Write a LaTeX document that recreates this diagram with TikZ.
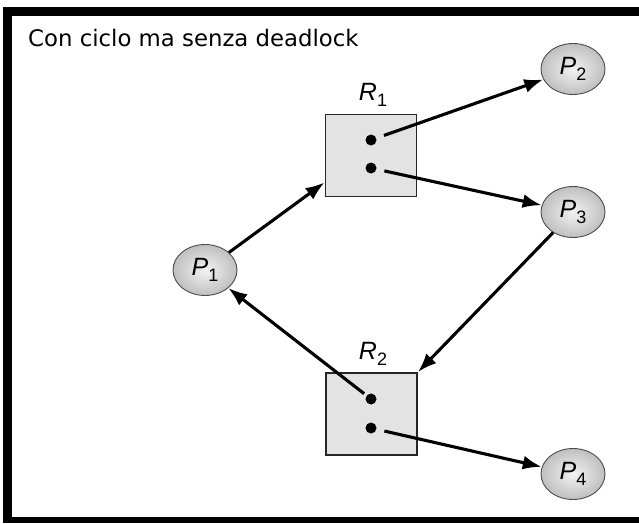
\documentclass[tikz,border=0pt]{standalone}
\usepackage{fontspec}
\setmainfont{DejaVu Sans}
\newfontfamily\lblfont{Liberation Sans}
\usetikzlibrary{arrows.meta,shapes.geometric}
\newcommand\mylab[2]{{\itshape #1}\raisebox{-6pt}{\fontsize{18}{18}\selectfont #2}}
\begin{document}
\begin{tikzpicture}[x=1pt,y=-1pt,
  proc/.style={ellipse, draw=black!70, line width=0.9pt, minimum width=64pt, minimum height=51pt,
    inner sep=0pt, inner color=gray!10, outer color=gray!50, font=\lblfont\fontsize{25}{25}\selectfont},
  res/.style={draw=black!85, line width=1.9pt, fill=gray!22, minimum width=91pt, minimum height=82pt, inner sep=0pt},
  tok/.style={circle, fill=black, minimum size=11pt, inner sep=0pt},
  edge/.style={line width=3.1pt, -{Latex[length=19pt,width=14pt]}},
  lbl/.style={font=\lblfont\fontsize{25}{25}\selectfont},
  band/.style={fill=black}
]
\useasboundingbox (0,0) rectangle (639,523);
% frame
\fill[band] (3,7) rectangle (639,16);
\fill[band] (3,7) rectangle (12,523);
\fill[band] (3,517) rectangle (639,523);
% title
\node[anchor=base west, inner sep=0pt, font=\fontsize{22.8}{24}\selectfont] (title) at (28,46) {Con ciclo ma senza deadlock};
% resources
\node[res] (R1) at (371,155.5) {};
\node[res] (R2) at (371.5,414) {};
\node[lbl] (R1l) at (373,95) {\mylab{R}{1}};
\node[lbl] (R2l) at (373,354) {\mylab{R}{2}};
\node[tok] (a1) at (371,140) {};
\node[tok] (a2) at (371,168) {};
\node[tok] (b1) at (371,399) {};
\node[tok] (b2) at (371,428) {};
% processes
\node[proc] (P1) at (205,270) {\mylab{P}{1}};
\node[proc] (P2) at (573,69) {\mylab{P}{2}};
\node[proc] (P3) at (573,212) {\mylab{P}{3}};
\node[proc] (P4) at (573,474) {\mylab{P}{4}};
% edges
\draw[edge] (P1) -- ([yshift=15pt]R1.south west);
\draw[edge, shorten <=8pt] (a1) -- (P2);
\draw[edge, shorten <=8pt] (a2) -- (P3);
\draw[edge] (P3) -- (R2.north east);
\draw[edge, shorten <=3pt] (b1) -- (P1);
\draw[edge, shorten <=8pt] (b2) -- (P4);
\end{tikzpicture}
\end{document}
